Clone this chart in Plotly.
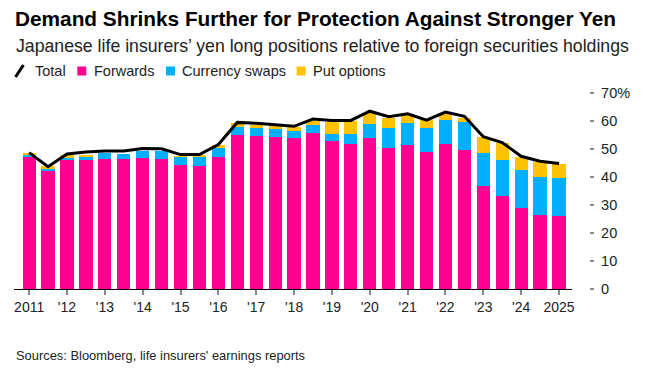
import plotly.graph_objects as go

# ---- data (half-year observations, 2011 -> 2025) ----
periods = [2011 + 0.5 * i for i in range(29)]
forwards = [47.4, 42.0, 45.9, 46.2, 46.6, 46.3, 46.7, 46.5, 44.3, 44.0, 47.1, 55.1, 54.7, 54.4,
            53.9, 55.7, 52.9, 51.9, 53.9, 50.3, 51.5, 49.0, 51.7, 49.7, 36.7, 33.3, 29.1, 26.4, 26.1]
currency_swaps = [0.6, 0.8, 1.2, 1.2, 1.8, 1.9, 2.6, 2.8, 3.0, 3.2, 3.1, 2.8, 2.8, 2.8,
                  2.5, 2.7, 2.6, 3.4, 4.9, 7.1, 7.8, 8.5, 8.5, 10.0, 11.7, 12.7, 13.4, 13.5, 13.6]
put_options = [0.6, 1.2, 0.7, 0.6, 0.0, 0.0, 0.0, 0.0, 0.2, 0.5, 1.1, 1.5, 1.0, 0.9,
               1.4, 1.5, 4.2, 4.7, 4.1, 3.7, 3.1, 3.0, 2.8, 1.5, 5.8, 6.3, 4.6, 5.4, 5.0]
total = [48.7, 43.7, 48.2, 48.9, 49.3, 49.3, 50.2, 50.1, 48.0, 48.0, 51.6, 59.5, 59.2, 58.7,
         58.1, 60.7, 60.2, 60.2, 63.5, 61.5, 62.6, 60.3, 63.2, 61.7, 54.4, 52.3, 47.4, 45.6, 44.8]

x_tick_vals = list(range(2011, 2026))
x_tick_text = ["2011", "'12", "'13", "'14", "'15", "'16", "'17", "'18", "'19", "'20",
               "'21", "'22", "'23", "'24", "2025"]
y_tick_vals = [0, 10, 20, 30, 40, 50, 60, 70]
y_tick_text = ["0", "10", "20", "30", "40", "50", "60", "70%"]

PINK = "#FF0090"
BLUE = "#00B0FF"
YELLOW = "#FFC200"
FONT = "Liberation Sans, Arial, sans-serif"

# ---- geometry helpers (screen pixel -> paper); page has an 8px body margin ----
W, H = 647, 370
OFF = 8
ML, MR, MT, MB = 6, 0, 85, 89
PW = W - ML - MR
PH = H - MT - MB


def px(x):
    return (x - OFF - ML) / PW


def py(y):
    return (H - MB - (y - OFF)) / PH


fig = go.Figure()
fig.add_trace(go.Bar(x=periods, y=forwards, name="Forwards", marker_color=PINK,
                     marker_line_width=0, showlegend=False))
fig.add_trace(go.Bar(x=periods, y=currency_swaps, name="Currency swaps", marker_color=BLUE,
                     marker_line_width=0, showlegend=False))
fig.add_trace(go.Bar(x=periods, y=put_options, name="Put options", marker_color=YELLOW,
                     marker_line_width=0, showlegend=False))
fig.add_trace(go.Scatter(x=periods, y=total, name="Total", mode="lines",
                         line=dict(color="black", width=3), showlegend=False))

annotations = [
    dict(text="<b>Demand Shrinks Further for Protection Against Stronger Yen</b>",
         x=px(13), y=py(19), xref="paper", yref="paper", xanchor="left", yanchor="middle",
         showarrow=False, font=dict(family=FONT, size=20.8, color="black")),
    dict(text="Japanese life insurers’ yen long positions relative to foreign securities holdings",
         x=px(13.5), y=py(46), xref="paper", yref="paper", xanchor="left", yanchor="middle",
         showarrow=False, font=dict(family=FONT, size=17.7, color="#222222")),
    dict(text="Sources: Bloomberg, life insurers' earnings reports",
         x=px(13.5), y=py(355), xref="paper", yref="paper", xanchor="left", yanchor="middle",
         showarrow=False, font=dict(family=FONT, size=12.9, color="#222222")),
]

shapes = [
    dict(type="line", xref="paper", yref="paper", x0=px(15.5), y0=py(77), x1=px(23.5), y1=py(65),
         line=dict(color="black", width=3)),
]
legend_items = [("Total", None, 33), ("Forwards", PINK, 92),
                ("Currency swaps", BLUE, 181), ("Put options", YELLOW, 312)]
for label, color, tx in legend_items:
    if color is not None:
        shapes.append(dict(type="rect", xref="paper", yref="paper",
                           x0=px(tx - 14.5), x1=px(tx - 5.5), y0=py(75.5), y1=py(66.5),
                           fillcolor=color, line=dict(width=0)))
    annotations.append(dict(text=label, x=px(tx), y=py(71), xref="paper", yref="paper",
                            xanchor="left", yanchor="middle", showarrow=False,
                            font=dict(family=FONT, size=14.5, color="#222222")))

fig.update_layout(
    width=W, height=H,
    margin=dict(l=ML, r=MR, t=MT, b=MB, pad=0),
    paper_bgcolor="white", plot_bgcolor="white",
    barmode="stack", bargap=0.3,
    font=dict(family=FONT, color="#222222"),
    annotations=annotations, shapes=shapes,
    showlegend=False,
    xaxis=dict(domain=[0, px(574)], range=[2010.6, 2025.35],
               tickvals=x_tick_vals, ticktext=x_tick_text,
               showline=True, linecolor="black", linewidth=1,
               ticks="outside", ticklen=5, tickcolor="#888888", tickwidth=1.5,
               showgrid=False, zeroline=False,
               tickfont=dict(family=FONT, size=14, color="#222222")),
    yaxis=dict(range=[0, 70], tickvals=y_tick_vals, ticktext=y_tick_text,
               side="right", anchor="free", position=px(591),
               ticks="outside", ticklen=4, tickcolor="#888888", tickwidth=1.5,
               ticklabelstandoff=4,
               showline=False, showgrid=False, zeroline=False,
               tickfont=dict(family=FONT, size=14.5, color="#222222")),
)

fig.write_html("out.html")
